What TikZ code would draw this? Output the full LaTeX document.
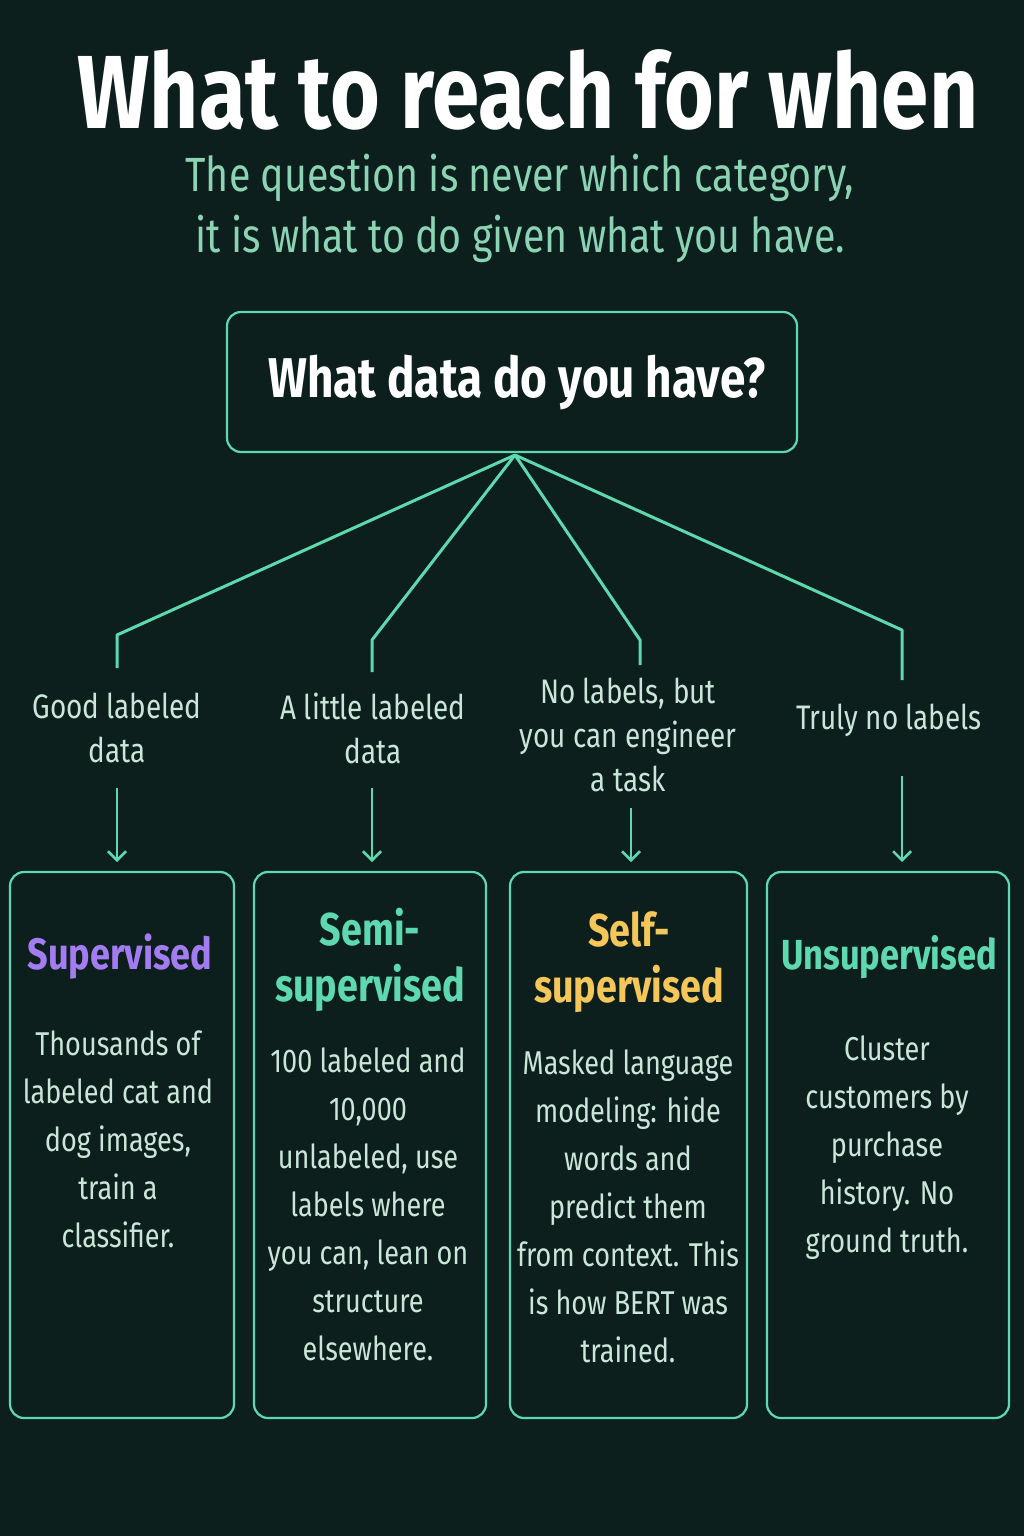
\documentclass[tikz,border=0pt]{standalone}
\usepackage{fontspec}
\setmainfont{Fira Sans}[FakeStretch=0.82]
\usetikzlibrary{arrows.meta}
\definecolor{bg}{HTML}{0C1F1D}
\definecolor{teal}{HTML}{5ED8AE}
\definecolor{sub}{HTML}{8CD3B4}
\definecolor{purp}{HTML}{A47CF2}
\definecolor{yel}{HTML}{F5C65A}
\definecolor{body}{HTML}{C9E6D8}
\tikzset{
 box/.style={draw=teal,line width=2.2pt,rounded corners=14pt,fill=bg},
 con/.style={draw=teal,line width=3pt},
 arr/.style={draw=teal,line width=2.5pt,-{Straight Barb[length=9pt,width=18pt]}},
 lab/.style={align=center,text=body,font=\fontsize{34}{44}\selectfont},
 ttl/.style={align=center,font=\fontsize{46}{56}\selectfont\bfseries},
 bod/.style={align=center,text=body,font=\fontsize{33}{48}\selectfont},
}
\begin{document}
\begin{tikzpicture}[x=1pt,y=-1pt]
\fill[bg] (0,0) rectangle (1024,1536);
\useasboundingbox (0,0) rectangle (1024,1536);
\node[text=white,font=\fontsize{104}{108}\selectfont\bfseries] (title) at (528,90) {What to reach for when};
\node[text=sub,align=center,font=\fontsize{48}{61}\selectfont] (sub) at (520,208) {The question is never which category,\\it is what to do given what you have.};
\node[box,minimum width=570pt,minimum height=140pt] (top) at (512,382) {};
\node[text=white,font=\fontsize{56}{60}\selectfont\bfseries] (q) at (517,382) {What data do you have?};
\coordinate (hub) at (515,455);
\coordinate (c1) at (117,635); \coordinate (d1) at (117,668);
\coordinate (c2) at (372,640); \coordinate (d2) at (372,672);
\coordinate (c3) at (640,640); \coordinate (d3) at (640,665);
\coordinate (c4) at (902,630); \coordinate (d4) at (902,680);
\draw[con,line join=round] (hub) -- (c1) -- (d1);
\draw[con,line join=round] (hub) -- (c2) -- (d2);
\draw[con,line join=round] (hub) -- (c3) -- (d3);
\draw[con,line join=round] (hub) -- (c4) -- (d4);
\node[lab] (l1) at (117,728) {Good labeled\\data};
\node[lab] (l2) at (373,728) {A little labeled\\data};
\node[lab] (l3) at (628,735) {No labels, but\\you can engineer\\a task};
\node[lab] (l4) at (889,720) {Truly no labels};
\coordinate (a1s) at (117,788); \coordinate (a1e) at (117,862);
\coordinate (a2s) at (372,788); \coordinate (a2e) at (372,862);
\coordinate (a3s) at (631,808); \coordinate (a3e) at (631,862);
\coordinate (a4s) at (902,776); \coordinate (a4e) at (902,862);
\draw[arr] (a1s) -- (a1e);
\draw[arr] (a2s) -- (a2e);
\draw[arr] (a3s) -- (a3e);
\draw[arr] (a4s) -- (a4e);
\draw[box] (10,872) rectangle (234,1418) coordinate (b1);
\draw[box] (254,872) rectangle (486,1418) coordinate (b2);
\draw[box] (510,872) rectangle (747,1418) coordinate (b3);
\draw[box] (767,872) rectangle (1009,1418) coordinate (b4);
\node[ttl,text=purp,font=\fontsize{44}{56}\selectfont\bfseries] (t1) at (120,957) {Supervised};
\node[ttl,text=teal] (t2) at (370,960) {Semi-\\supervised};
\node[ttl,text=yel] (t3) at (629,962) {Self-\\supervised};
\node[ttl,text=teal,font=\fontsize{42}{56}\selectfont\bfseries] (t4) at (889,957) {Unsupervised};
\node[bod,anchor=north] (p1) at (118,1027) {Thousands of\\labeled cat and\\dog images,\\train a\\classifier.};
\node[bod,anchor=north] (p2) at (368,1044) {100 labeled and\\10,000\\unlabeled, use\\labels where\\you can, lean on\\structure\\elsewhere.};
\node[bod,anchor=north] (p3) at (628,1046) {Masked language\\modeling: hide\\words and\\predict them\\from context. This\\is how BERT was\\trained.};
\node[bod,anchor=north] (p4) at (887,1032) {Cluster\\customers by\\purchase\\history. No\\ground truth.};
\end{tikzpicture}
\end{document}
